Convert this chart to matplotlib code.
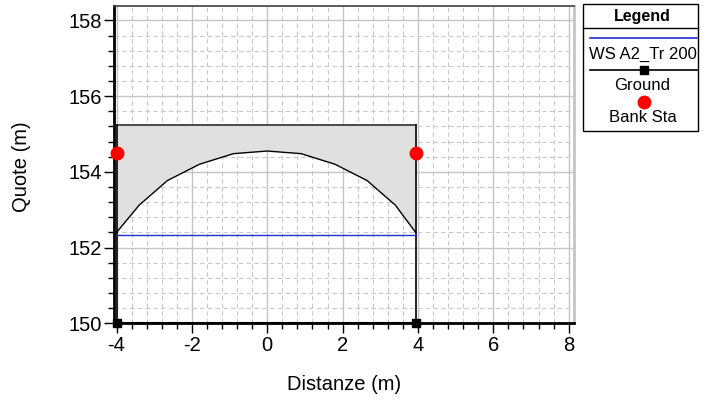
import matplotlib
matplotlib.use("Agg")
import matplotlib.pyplot as plt
from matplotlib.ticker import MultipleLocator
from matplotlib.patches import Rectangle, Polygon
from matplotlib.lines import Line2D

plt.rcParams['font.family'] = ['Liberation Sans', 'DejaVu Sans']

# data
deck_top = 155.25
arch_x = [-4.0, -3.4, -2.65, -1.8, -0.9, 0.0, 0.9, 1.8, 2.65, 3.4, 3.94]
arch_y = [152.4, 153.12, 153.77, 154.2, 154.48, 154.55, 154.48, 154.2, 153.77, 153.12, 152.4]
ground_x = [-4.0, 3.94]
ground_y = [150.0, 150.0]
ws_x = [-4.0, 3.94]
ws_y = [152.34, 152.34]
bank_x = [-4.0, 3.94]
bank_y = [154.5, 154.5]
xticks = [-4, -2, 0, 2, 4, 6, 8]
yticks = [150, 152, 154, 156, 158]

W, H = 703, 405
fig = plt.figure(figsize=(W/100, H/100), dpi=100)
ax = fig.add_axes([114.3/W, 1-323.3/H, (574.3-114.3)/W, (323.3-6)/H])
ax.set_xlim(-4.06, 8.15)
ax.set_ylim(150, 158.38)

# deck polygon
poly_x = [arch_x[0]] + arch_x + [arch_x[-1]]
poly_y = [deck_top] + arch_y + [deck_top]
ax.add_patch(Polygon(list(zip(poly_x, poly_y)), closed=True, facecolor='#e0e0e0',
                     edgecolor='none', zorder=2))
ax.plot(arch_x, arch_y, color='black', lw=1, zorder=3)
ax.plot([arch_x[0], arch_x[-1]], [deck_top, deck_top], color='#303030', lw=1.2, zorder=3)
ax.plot([ground_x[0], ground_x[0]], [ground_y[0], deck_top], color='black', lw=1.2, zorder=3)
ax.plot([ground_x[-1], ground_x[-1]], [ground_y[-1], deck_top], color='black', lw=1.2, zorder=3)

# water surface
ax.plot(ws_x, ws_y, color='#1f2fd0', lw=1, zorder=4)
# ground
ax.plot(ground_x, ground_y, color='black', lw=1.5, marker='s', ms=6, zorder=5, clip_on=False)
# bank stations
ax.plot(bank_x, bank_y, 'o', color='red', ms=10, zorder=6, clip_on=False, markeredgewidth=0)

ax.set_xticks(xticks)
ax.set_yticks(yticks)
ax.set_xticklabels([str(t) for t in xticks])
ax.set_yticklabels([str(t) for t in yticks])
ax.xaxis.set_minor_locator(MultipleLocator(0.4))
ax.yaxis.set_minor_locator(MultipleLocator(0.4))
ax.grid(which='major', color='#c4c4c4', lw=1, ls='-', zorder=0)
ax.grid(which='minor', color='#c8c8c8', lw=0.8, ls=(0, (4, 3)), zorder=0)
ax.set_axisbelow(True)
ax.tick_params(which='major', length=7, width=1, direction='out', labelsize=14.5, pad=2)
ax.tick_params(which='minor', length=4, width=1, direction='out')
ax.tick_params(top=False, right=False, which='both')

for s in ['left', 'bottom']:
    ax.spines[s].set_linewidth(2)
    ax.spines[s].set_color('black')
ax.spines['right'].set_linewidth(2)
ax.spines['right'].set_color('#c4c4c4')
ax.spines['top'].set_linewidth(1.2)
ax.spines['top'].set_color('#404040')

fig.text(22/W, 1-167/H, 'Quote (m)', rotation=90, fontsize=14.5, ha='center', va='center')
fig.text(344/W, 1-385/H, 'Distanze (m)', fontsize=14.5, ha='center', va='center')

# legend box
lx0, lx1, ly0, ly1 = 583, 698, 4, 131
def fx(p): return p / W
def fy(p): return 1 - p / H
fig.patches.append(Rectangle((fx(lx0), fy(ly1)), fx(lx1-lx0), (ly1-ly0)/H, transform=fig.transFigure,
                             facecolor='white', edgecolor='black', lw=1))
fig.lines.append(Line2D([fx(lx0), fx(lx1)], [fy(28), fy(28)], transform=fig.transFigure, color='black', lw=1))
cx = fx((lx0+lx1)/2 + 2)
fig.text(cx, fy(17), 'Legend', fontsize=11.5, fontweight='bold', ha='center', va='center')
fig.lines.append(Line2D([fx(590), fx(697)], [fy(38), fy(38)], transform=fig.transFigure, color='#1f2fd0', lw=1.2))
fig.text(cx, fy(54), 'WS A2_Tr 200', fontsize=12, ha='center', va='center')
fig.lines.append(Line2D([fx(590), fx(697)], [fy(70), fy(70)], transform=fig.transFigure, color='black', lw=1.2))
fig.lines.append(Line2D([fx(644)], [fy(70)], transform=fig.transFigure, color='black', marker='s', ms=6, lw=0))
fig.text(cx, fy(85), 'Ground', fontsize=12, ha='center', va='center')
fig.lines.append(Line2D([fx(644)], [fy(102)], transform=fig.transFigure, color='red', marker='o', ms=10, lw=0, markeredgewidth=0))
fig.text(cx, fy(117), 'Bank Sta', fontsize=12, ha='center', va='center')

fig.savefig('out.png', dpi=100)
